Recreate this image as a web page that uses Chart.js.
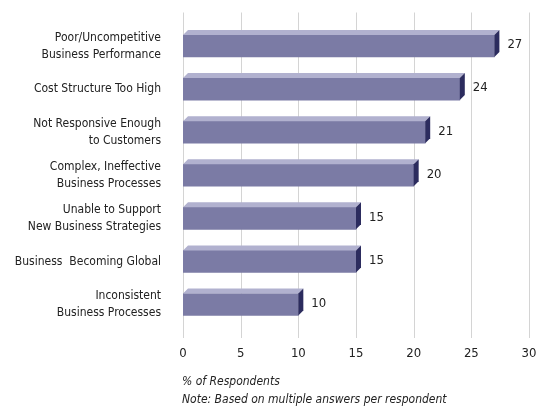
<!DOCTYPE html>
<html>
<head>
<meta charset="utf-8">
<script src="https://cdn.jsdelivr.net/npm/chart.js@4/dist/chart.umd.min.js"></script>
<style>
  html, body { margin: 0; padding: 0; background: #fff; }
  #wrap { width: 545px; height: 416px; }
</style>
</head>
<body>
<div id="wrap"><canvas id="reasonsChart" width="545" height="416"></canvas></div>
<script>
const categories = [
    ["Poor/Uncompetitive", "Business Performance"],
    "Cost Structure Too High",
    ["Not Responsive Enough", "to Customers"],
    ["Complex, Ineffective", "Business Processes"],
    ["Unable to Support", "New Business Strategies"],
    "Business  Becoming Global",
    ["Inconsistent", "Business Processes"]
];
const respondents = [27, 24, 21, 20, 15, 15, 10];
const xTicks = [0, 5, 10, 15, 20, 25, 30];
const notes = ["% of Respondents", "Note: Based on multiple answers per respondent"];

const FONT = "'DejaVu Sans Condensed', 'Liberation Sans Narrow', sans-serif";
Chart.defaults.font.family = FONT;
Chart.defaults.color = "#222";

const DEPTH = 5;

// vertical grid lines, taller than the bar area
const gridLines = {
    id: "gridLines",
    beforeDatasetsDraw(chart) {
        const { ctx, chartArea, scales: { x } } = chart;
        ctx.save();
        ctx.strokeStyle = "#d4d4d4";
        ctx.lineWidth = 1;
        xTicks.forEach(v => {
            const px = Math.round(x.getPixelForValue(v)) + 0.5;
            ctx.beginPath();
            ctx.moveTo(px, chartArea.top - 12);
            ctx.lineTo(px, chartArea.bottom + 12);
            ctx.stroke();
        });
        ctx.restore();
    }
};

// top and side faces of each bar, value labels, footnote
const bars3d = {
    id: "bars3d",
    afterDatasetsDraw(chart) {
        const { ctx, chartArea } = chart;
        const meta = chart.getDatasetMeta(0);
        ctx.save();
        meta.data.forEach((bar, i) => {
            const top = bar.y - bar.height / 2;
            const bottom = bar.y + bar.height / 2;
            // top face
            ctx.fillStyle = "#b1b1cf";
            ctx.beginPath();
            ctx.moveTo(bar.base, top);
            ctx.lineTo(bar.base + DEPTH, top - DEPTH);
            ctx.lineTo(bar.x + DEPTH, top - DEPTH);
            ctx.lineTo(bar.x, top);
            ctx.closePath();
            ctx.fill();
            // side face
            ctx.fillStyle = "#2c2c5e";
            ctx.beginPath();
            ctx.moveTo(bar.x, top);
            ctx.lineTo(bar.x + DEPTH, top - DEPTH);
            ctx.lineTo(bar.x + DEPTH, bottom - DEPTH);
            ctx.lineTo(bar.x, bottom);
            ctx.closePath();
            ctx.fill();
            // value
            ctx.fillStyle = "#222";
            ctx.font = "13px " + FONT;
            ctx.textAlign = "left";
            ctx.textBaseline = "middle";
            ctx.fillText(respondents[i], bar.x + DEPTH + 8, bar.y - 1);
        });
        ctx.font = "italic 12px " + FONT;
        ctx.textAlign = "left";
        ctx.textBaseline = "middle";
        notes.forEach((t, i) => ctx.fillText(t, chartArea.left - 1, chartArea.bottom + 56 + i * 18));
        ctx.restore();
    }
};

const ctx = document.getElementById("reasonsChart").getContext("2d");
new Chart(ctx, {
    type: "bar",
    data: {
        labels: categories,
        datasets: [{
            data: respondents,
            backgroundColor: "#7b7ba5",
            borderWidth: 0,
            barThickness: 22
        }]
    },
    options: {
        indexAxis: "y",
        responsive: false,
        animation: false,
        layout: { padding: { top: 24.5, right: 16, bottom: 0, left: 0 } },
        plugins: {
            legend: { display: false },
            tooltip: { enabled: false }
        },
        scales: {
            x: {
                min: 0,
                max: 30,
                grid: { display: false, drawTicks: false, tickLength: 0 },
                border: { display: false },
                ticks: { stepSize: 5, padding: 20, font: { size: 13 }, color: "#222" },
                afterFit(scale) {
                    scale.height = 90;
                    scale.paddingLeft = 0;
                    scale.paddingRight = 0;
                }
            },
            y: {
                grid: { display: false, drawTicks: false, tickLength: 0 },
                border: { display: false },
                ticks: { padding: 22, font: { size: 12, lineHeight: 1.4 }, color: "#222" },
                afterFit(scale) {
                    scale.width = 183;
                    scale.paddingTop = 0;
                    scale.paddingBottom = 0;
                }
            }
        }
    },
    plugins: [gridLines, bars3d]
});
</script>
</body>
</html>
